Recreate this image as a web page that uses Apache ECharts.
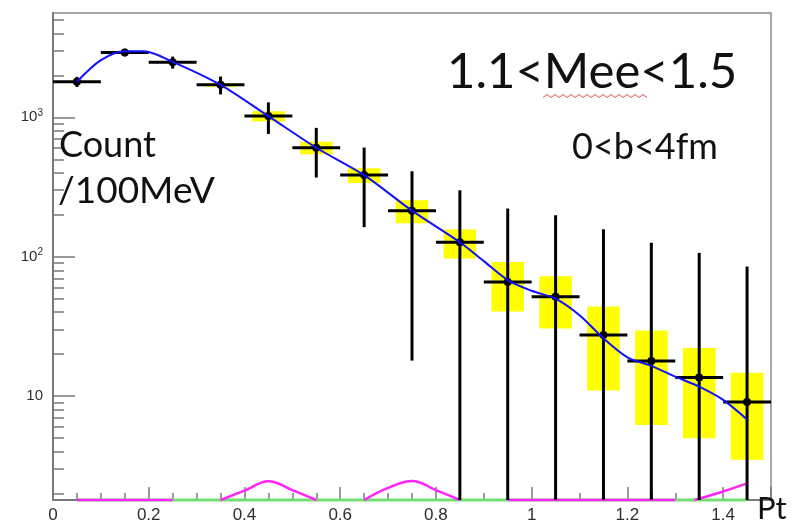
<!DOCTYPE html>
<html>
<head>
<meta charset="utf-8">
<script src="https://cdn.jsdelivr.net/npm/echarts@6/dist/echarts.min.js"></script>
<style>
  html, body { margin: 0; padding: 0; background: #fff; }
  #chart { width: 793px; height: 525px; }
</style>
</head>
<body>
<div id="chart"></div>
<script>
// Pt bin centres (GeV), bin width 0.1
const ptCenters = [0.05, 0.15, 0.25, 0.35, 0.45, 0.55, 0.65, 0.75, 0.85, 0.95, 1.05, 1.15, 1.25, 1.35, 1.45];
// Counts per 100 MeV
const counts  = [1800, 2920, 2480, 1710, 1020, 605, 385, 214, 127, 66, 51.6, 27.5, 17.9, 13.6, 9.1];
// Statistical errors (black bars)
const statErr = [150, 180, 245, 250, 260, 235, 222, 196, 173, 156, 147, 130, 108, 93, 76];
// Systematic errors (yellow boxes)
const sysErr  = [20, 30, 40, 50, 85, 62, 47, 40, 30, 25.5, 21, 16.5, 11.7, 8.6, 5.6];

// Fit curve
const fitPt  = [0.05, 0.10, 0.15, 0.19, 0.25, 0.35, 0.45, 0.55, 0.65, 0.75, 0.85, 0.90, 0.95, 1.00, 1.05, 1.10, 1.15, 1.20, 1.25, 1.30, 1.35, 1.40, 1.45];
const fitVal = [1800, 2570, 2980, 2980, 2500, 1710, 1020, 605, 385, 214, 127, 93, 68, 57, 50, 38, 26, 19, 16.5, 13.8, 11.7, 9.4, 6.8];

// Axis ranges
const X_MIN = 0, X_MAX = 1.5;
const Y_MIN = 1.8, Y_MAX = 5600;

// Background components near the axis floor
const greenPt  = [0.05, 1.45];
const greenVal = [Y_MIN, Y_MIN];
const magentaSegments = [
  { pt: [0.05, 0.25], val: [Y_MIN, Y_MIN] },
  { pt: [0.35, 0.40, 0.45, 0.50, 0.55], val: [Y_MIN, 2.1, 2.45, 2.12, Y_MIN] },
  { pt: [0.65, 0.70, 0.75, 0.80, 0.85], val: [Y_MIN, 2.2, 2.46, 2.12, Y_MIN] },
  { pt: [0.95, 1.30], val: [Y_MIN, Y_MIN] },
  { pt: [1.34, 1.39, 1.45], val: [Y_MIN, 2.02, 2.37] }
];

// Tick values
const xLabelStep = 0.2;
const yMajorTicks = [10, 100, 1000];
const yMinorTicks = [];
for (let d = 1; d <= 1000; d *= 10) {
  for (let m = 2; m <= 9; m++) {
    const v = m * d;
    if (v > Y_MIN && v < Y_MAX) yMinorTicks.push(v);
  }
}

const BIN_HALF = 0.05;   // half bin width
const BOX_HALF = 0.034;  // half width of the systematic boxes

const AXIS_GREY = '#7a7a7a';
const LABEL_FONT = 'Liberation Sans';
const LABEL_COLOR = '#2e2e2e';

const chart = echarts.init(document.getElementById('chart'), null, { renderer: 'canvas' });

const bandSeries = {
  type: 'custom',
  name: 'sys',
  z: 2,
  data: ptCenters.map((x, i) => [x, counts[i], sysErr[i]]),
  renderItem(params, api) {
    const x = api.value(0), y = api.value(1), e = api.value(2);
    const lo = Math.max(y - e, Y_MIN);
    const p1 = api.coord([x - BOX_HALF, y + e]);
    const p2 = api.coord([x + BOX_HALF, lo]);
    return {
      type: 'rect',
      shape: { x: p1[0], y: p1[1], width: p2[0] - p1[0], height: p2[1] - p1[1] },
      style: { fill: '#ffff00' }
    };
  }
};

const barSeries = {
  type: 'custom',
  name: 'stat',
  z: 3,
  data: ptCenters.map((x, i) => [x, counts[i], statErr[i]]),
  renderItem(params, api) {
    const x = api.value(0), y = api.value(1), e = api.value(2);
    const lo = y - e > Y_MIN ? y - e : Y_MIN;
    const top = api.coord([x, y + e]);
    const bot = api.coord([x, lo]);
    const left = api.coord([x - BIN_HALF, y]);
    const right = api.coord([x + BIN_HALF, y]);
    const c = api.coord([x, y]);
    return {
      type: 'group',
      children: [
        { type: 'line', shape: { x1: top[0], y1: top[1], x2: bot[0], y2: bot[1] }, style: { stroke: '#000', lineWidth: 3 } },
        { type: 'line', shape: { x1: left[0], y1: left[1], x2: right[0], y2: right[1] }, style: { stroke: '#000', lineWidth: 3 } },
        { type: 'circle', shape: { cx: c[0], cy: c[1], r: 4 }, style: { fill: '#000' } }
      ]
    };
  }
};

const fitSeries = {
  type: 'line',
  name: 'fit',
  z: 4,
  data: fitPt.map((x, i) => [x, fitVal[i]]),
  smooth: 0.3,
  showSymbol: false,
  lineStyle: { color: '#1010ff', width: 2 }
};

const greenSeries = {
  type: 'line',
  z: 2,
  clip: false,
  data: greenPt.map((x, i) => [x, greenVal[i]]),
  showSymbol: false,
  lineStyle: { color: '#74dd74', width: 3 }
};

const magentaSeries = magentaSegments.map(seg => ({
  type: 'line',
  z: 2,
  clip: false,
  data: seg.pt.map((x, i) => [x, seg.val[i]]),
  smooth: 0.4,
  showSymbol: false,
  lineStyle: { color: '#ff22ff', width: 2.5 }
}));

// spell-check style wavy underline under "Mee"
const squiggle = [];
for (let i = 0; i <= 26; i++) {
  squiggle.push([543 + i * 4, 96 + (i % 2 === 0 ? 1.5 : -1.5)]);
}

const option = {
  backgroundColor: '#ffffff',
  animation: false,
  grid: {
    left: 53, top: 13, right: 22, bottom: 25,
    show: true,
    borderColor: '#8a8a8a',
    borderWidth: 1.5,
    backgroundColor: 'transparent'
  },
  xAxis: {
    type: 'value',
    min: X_MIN, max: X_MAX,
    interval: xLabelStep,
    axisLine: { onZero: false, lineStyle: { color: AXIS_GREY, width: 2 } },
    axisTick: { inside: true, length: 13, lineStyle: { color: AXIS_GREY, width: 1.5 } },
    minorTick: { show: true, splitNumber: 4, length: 7, lineStyle: { color: AXIS_GREY, width: 1.5 } },
    splitLine: { show: false },
    axisLabel: {
      margin: 7,
      fontFamily: LABEL_FONT,
      fontSize: 17,
      color: LABEL_COLOR,
      showMaxLabel: false,
      formatter: v => {
        const k = Math.round(v / xLabelStep);
        if (Math.abs(v - k * xLabelStep) > 1e-6) return '';
        return String(+(k * xLabelStep).toFixed(1));
      }
    }
  },
  yAxis: [
    {
      type: 'log',
      logBase: 10,
      min: Y_MIN, max: Y_MAX,
      axisLine: { show: true, lineStyle: { color: AXIS_GREY, width: 2 } },
      axisTick: { inside: true, length: 22, customValues: yMajorTicks, lineStyle: { color: AXIS_GREY, width: 1.5 } },
      splitLine: { show: false },
      axisLabel: {
        margin: 10,
        fontFamily: LABEL_FONT,
        fontSize: 15,
        color: LABEL_COLOR,
        customValues: yMajorTicks,
        formatter: v => {
          const e = Math.round(Math.log10(v));
          if (e === 1) return '{b|10}';
          return '{b|10}{s|' + e + '}';
        },
        rich: {
          b: { fontFamily: LABEL_FONT, fontSize: 15, color: LABEL_COLOR },
          s: { fontFamily: LABEL_FONT, fontSize: 10, color: LABEL_COLOR, verticalAlign: 'top', padding: [0, 0, 9, 0] }
        }
      }
    },
    {
      type: 'log',
      logBase: 10,
      min: Y_MIN, max: Y_MAX,
      position: 'left',
      axisLine: { show: false },
      axisTick: { inside: true, length: 11, customValues: yMinorTicks, lineStyle: { color: AXIS_GREY, width: 1.5 } },
      axisLabel: { show: false },
      splitLine: { show: false }
    }
  ],
  series: [bandSeries, greenSeries, ...magentaSeries, barSeries, fitSeries],
  graphic: [
    {
      type: 'text', left: 447, top: 48, z: 10,
      style: { text: '1.1<Mee<1.5', font: '49px Lato', fill: '#111' }
    },
    {
      type: 'polyline', z: 10,
      shape: { points: squiggle },
      style: { stroke: '#e05050', lineWidth: 1, fill: null }
    },
    {
      type: 'text', left: 572, top: 129, z: 10,
      style: { text: '0<b<4fm', font: '36px Lato', fill: '#111' }
    },
    {
      type: 'text', left: 59, top: 127, z: 10,
      style: { text: 'Count', font: '36px Lato', fill: '#111' }
    },
    {
      type: 'text', left: 58, top: 173, z: 10,
      style: { text: '/100MeV', font: '37px Lato', fill: '#111' }
    },
    {
      type: 'text', left: 757, top: 493, z: 10,
      style: { text: 'Pt', font: '31px Lato', fill: '#111' }
    }
  ]
};

chart.setOption(option);
</script>
</body>
</html>
